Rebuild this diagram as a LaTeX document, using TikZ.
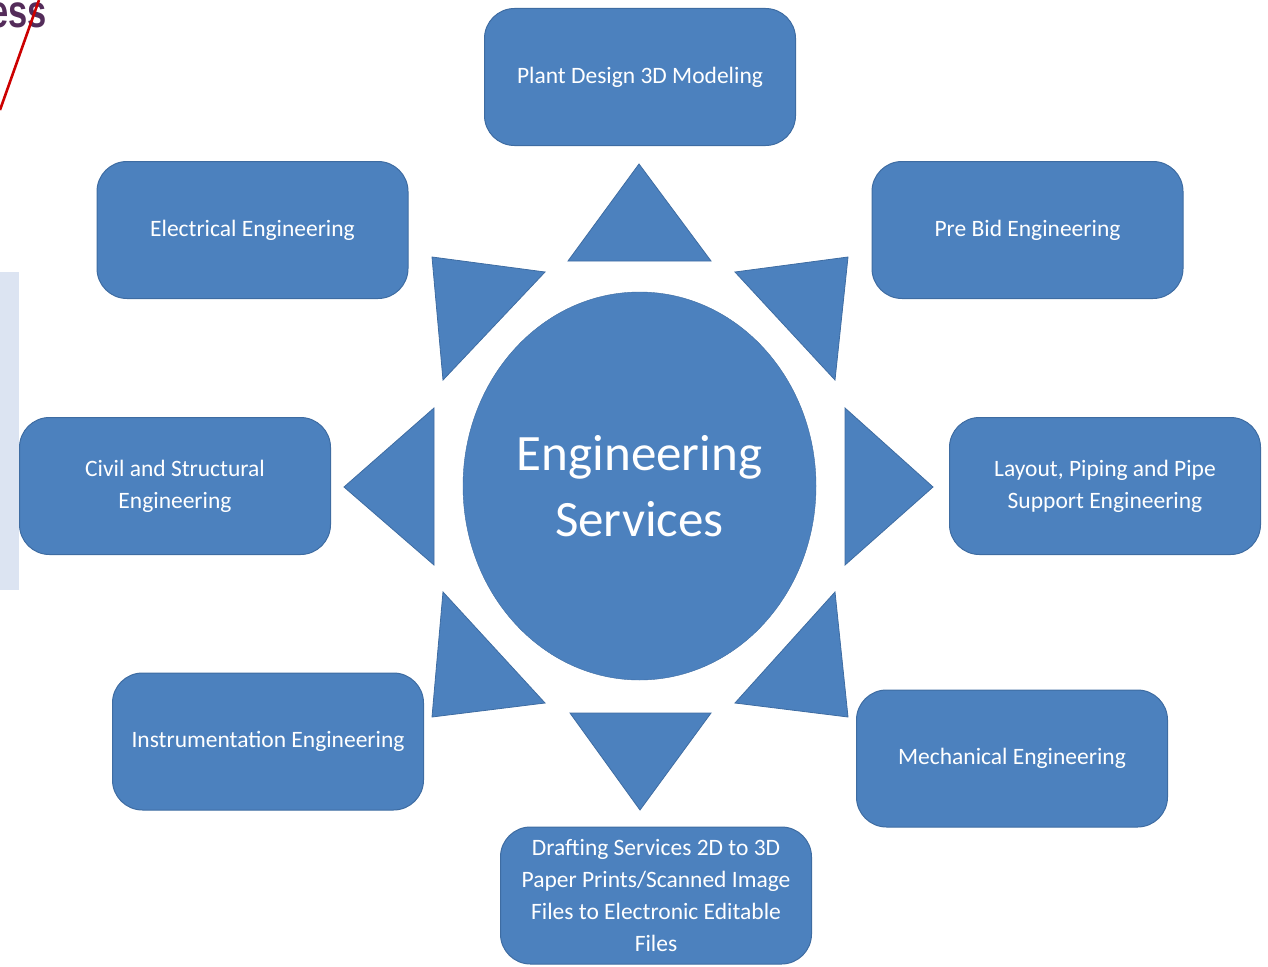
\documentclass[tikz,border=0pt]{standalone}
\usepackage{fontspec}
\setmainfont{Carlito}
\newfontfamily\headfont{Liberation Sans}
\usetikzlibrary{shapes.geometric}
\definecolor{boxblue}{RGB}{76,129,190}
\definecolor{edgeblue}{RGB}{62,108,162}
\definecolor{plum}{RGB}{84,44,90}
\definecolor{sidegrey}{RGB}{220,228,242}
\tikzset{
box/.style={draw=edgeblue, fill=boxblue, line width=1pt, rounded corners=30pt, minimum width=311pt, minimum height=137pt, text=white, align=center, font=\fontsize{23.5}{32}\selectfont}, % the eight service boxes
ray/.style={fill=boxblue, draw=edgeblue, line width=0.8pt}, % the triangles round the hub
}

\begin{document}
\begin{tikzpicture}[x=1pt, y=-1pt]
    \useasboundingbox (0,0) rectangle (1268,966);
    % pieces of the slide behind
    \fill[sidegrey] (0,272) rectangle (19,590);
    \node[font=\headfont\bfseries\fontsize{46}{46}\selectfont, text=plum, anchor=base east, inner sep=0pt, xscale=0.75] (ess) at (47,28) {ess};
    \draw[red!80!black, line width=2.6pt] (39,0) -- (0,110);
    % hub
    \node[ellipse, draw=edgeblue, fill=boxblue, minimum width=353pt, minimum height=388pt, inner sep=0pt, text=white, align=center, font=\fontsize{51}{66}\selectfont] (hub) at (639.5,486) {Engineering\\Services};
    % rays
    \draw[ray] (568,261) -- (639,164) -- (711,261) -- cycle;
    \draw[ray] (570,713) -- (640,810) -- (711,713) -- cycle;
    \draw[ray] (434,408) -- (344,487) -- (434,565) -- cycle;
    \draw[ray] (845,408) -- (933,487) -- (845,565) -- cycle;
    \draw[ray] (432,257) -- (545,272) -- (443,380) -- cycle;
    \draw[ray] (848,257) -- (735,272) -- (835,380) -- cycle;
    \draw[ray] (432,717) -- (545,703) -- (443,592) -- cycle;
    \draw[ray] (848,717) -- (735,703) -- (835,592) -- cycle;
    % services
    \node[box] (plant) at (640,77) {Plant Design 3D Modeling};
    \node[box] (elec) at (252.5,230) {Electrical Engineering};
    \node[box] (prebid) at (1027.5,230) {Pre Bid Engineering};
    \node[box] (civil) at (175,486) {Civil and Structural\\Engineering};
    \node[box] (layout) at (1105,486) {Layout, Piping and Pipe\\Support Engineering};
    \node[box] (instr) at (268,741.5) {Instrumentation Engineering};
    \node[box] (mech) at (1012,758.5) {Mechanical Engineering};
    \node[box] (draft) at (656,895.5) {Drafting Services 2D to 3D\\Paper Prints/Scanned Image\\Files to Electronic Editable\\Files};
\end{tikzpicture}
\end{document}
